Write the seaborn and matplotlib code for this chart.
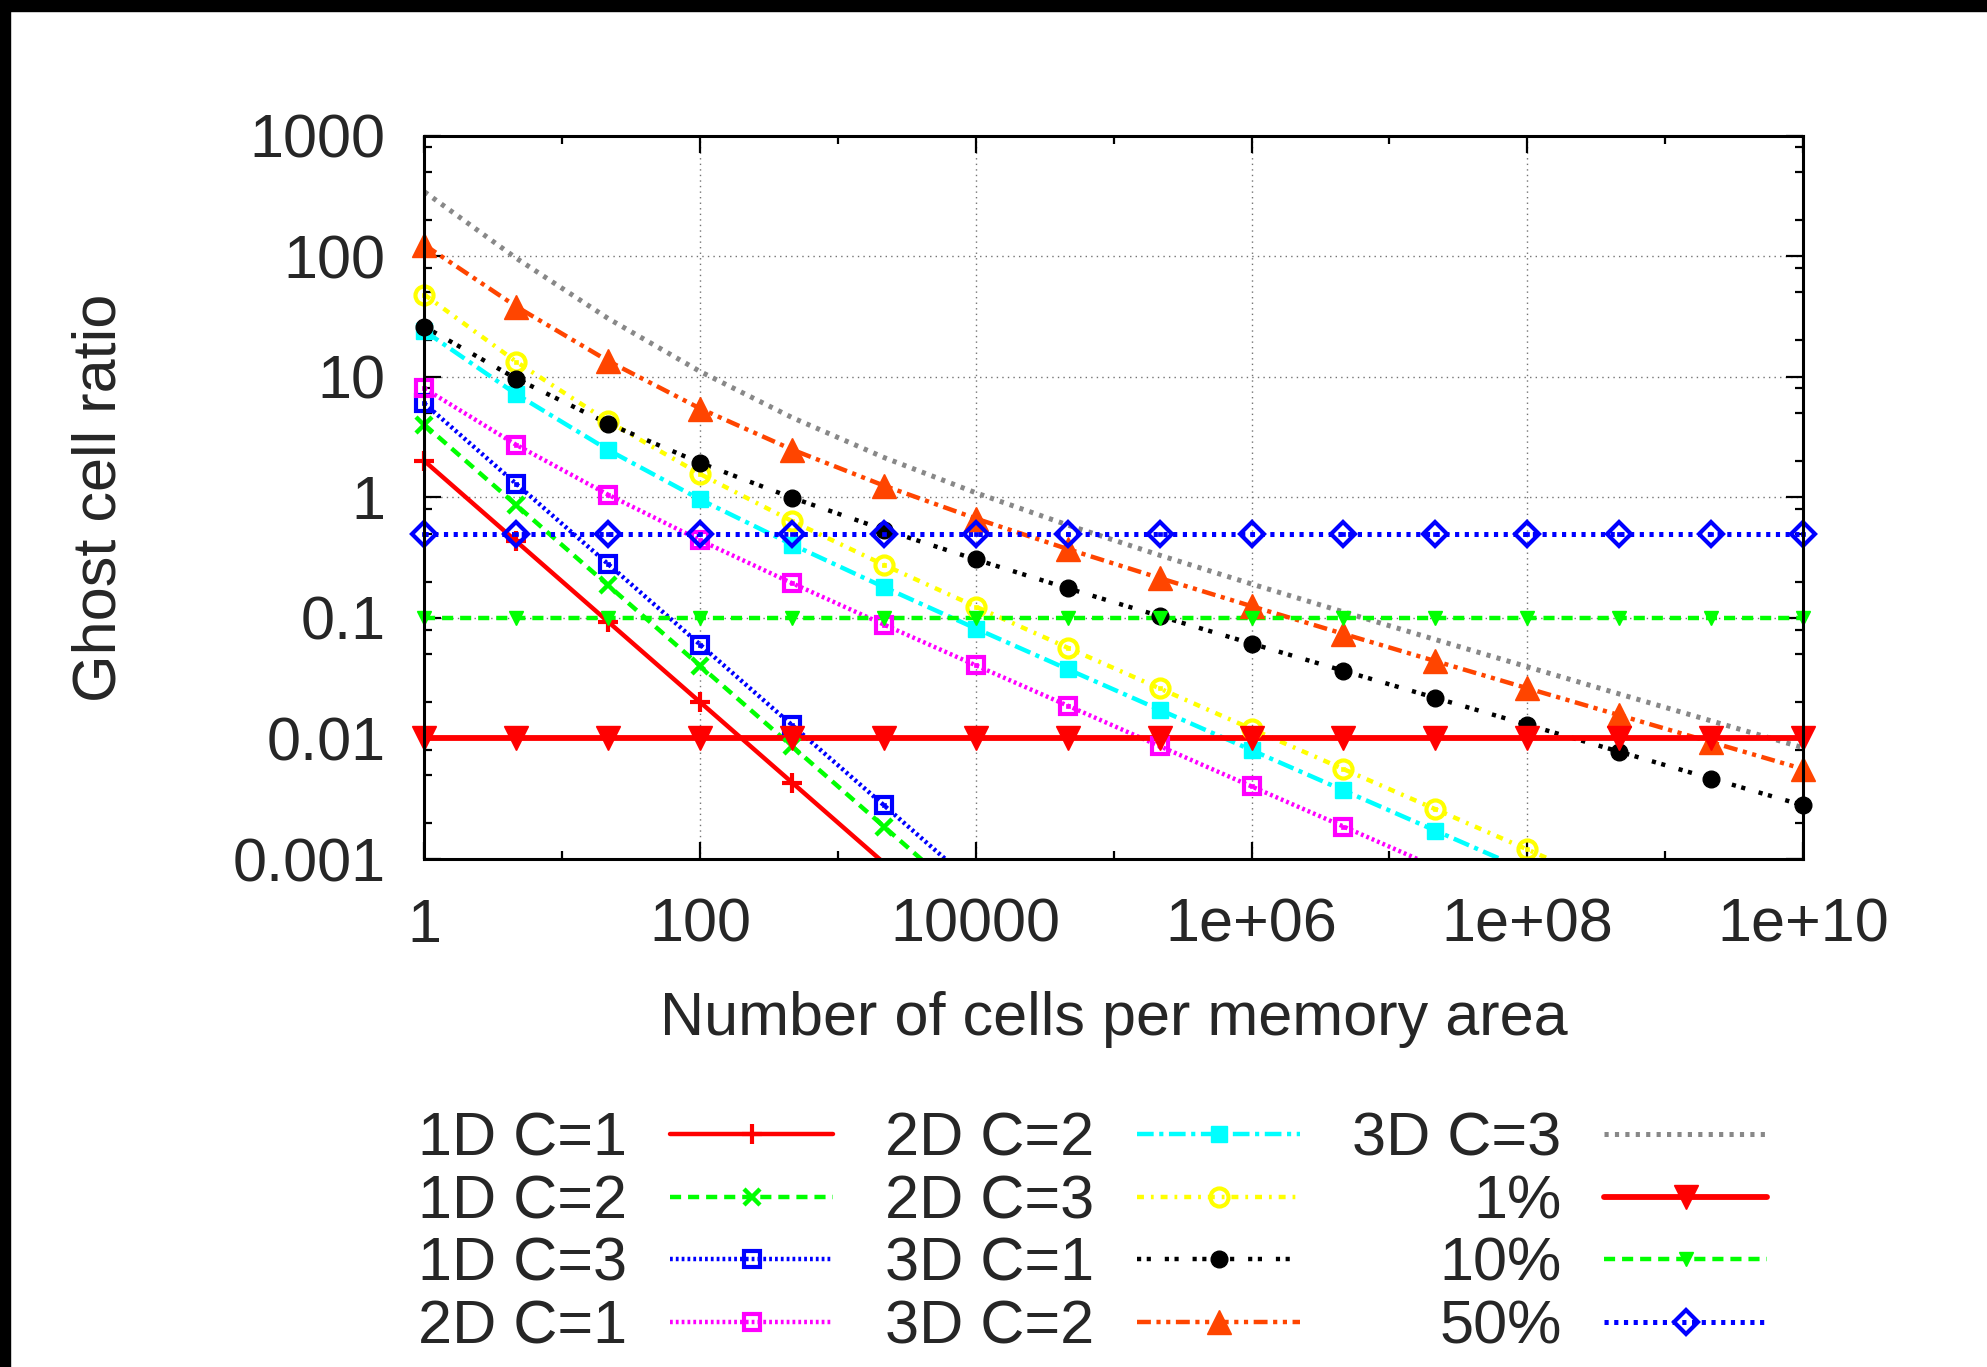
import matplotlib
matplotlib.use("Agg")
import matplotlib.pyplot as plt
import seaborn as sns
import pandas as pd
from matplotlib.lines import Line2D
from matplotlib.patches import Rectangle
from matplotlib.ticker import FixedLocator, FixedFormatter, NullFormatter

# ---------------- data ----------------
cells = [1, 4.642, 21.54, 100, 464.2, 2154, 1.0e4, 4.642e4, 2.154e5, 1.0e6,
         4.642e6, 2.154e7, 1.0e8, 4.642e8, 2.154e9, 1.0e10]

ratio_1d_c1 = [2.0, 0.431, 0.0928, 0.02, 0.00431, 0.000928]
ratio_1d_c2 = [4.0, 0.862, 0.186, 0.04, 0.00862, 0.00186, 0.0004]
ratio_1d_c3 = [6.0, 1.29, 0.279, 0.06, 0.0129, 0.00279, 0.0006]
ratio_2d_c1 = [8.0, 2.72, 1.05, 0.44, 0.194, 0.0880, 0.0404, 0.0187, 0.00864,
               0.0040, 0.00186, 0.00086]
ratio_2d_c2 = [24.0, 7.16, 2.47, 0.96, 0.406, 0.180, 0.0816, 0.0375, 0.0173,
               0.0080, 0.00371, 0.00172, 0.0008]
ratio_2d_c3 = [48.0, 13.3, 4.26, 1.56, 0.635, 0.275, 0.124, 0.0565, 0.0260,
               0.0120, 0.00557, 0.00259, 0.0012, 0.000557]
ratio_3d_c1 = [26.0, 9.63, 4.08, 1.93, 0.992, 0.540, 0.305, 0.176, 0.1035,
               0.0612, 0.0364, 0.0217, 0.0130, 0.00777, 0.00465, 0.00279]
ratio_3d_c2 = [124.0, 38.2, 13.5, 5.45, 2.49, 1.25, 0.667, 0.372, 0.214,
               0.125, 0.0737, 0.0438, 0.0261, 0.0156, 0.00932, 0.00558]
ratio_3d_c3 = [342.0, 96.1, 30.4, 11.05, 4.59, 2.14, 1.09, 0.589, 0.331,
               0.191, 0.112, 0.0661, 0.0393, 0.0234, 0.0140, 0.00838]
level_1pct = [0.01, 0.01, 0.01, 0.01, 0.01, 0.01, 0.01, 0.01,
              0.01, 0.01, 0.01, 0.01, 0.01, 0.01, 0.01, 0.01]
level_10pct = [0.1, 0.1, 0.1, 0.1, 0.1, 0.1, 0.1, 0.1,
               0.1, 0.1, 0.1, 0.1, 0.1, 0.1, 0.1, 0.1]
level_50pct = [0.5, 0.5, 0.5, 0.5, 0.5, 0.5, 0.5, 0.5,
               0.5, 0.5, 0.5, 0.5, 0.5, 0.5, 0.5, 0.5]

series_labels = ["1D C=1", "1D C=2", "1D C=3", "2D C=1", "2D C=2", "2D C=3",
                 "3D C=1", "3D C=2", "3D C=3", "1%", "10%", "50%"]
series_values = [ratio_1d_c1, ratio_1d_c2, ratio_1d_c3, ratio_2d_c1, ratio_2d_c2,
                 ratio_2d_c3, ratio_3d_c1, ratio_3d_c2, ratio_3d_c3,
                 level_1pct, level_10pct, level_50pct]

x_ticks = [1, 1e2, 1e4, 1e6, 1e8, 1e10]
x_tick_labels = ["1", "100", "10000", "1e+06", "1e+08", "1e+10"]
x_minor = [10, 1e3, 1e5, 1e7, 1e9]
y_ticks = [1e-3, 1e-2, 1e-1, 1, 10, 100, 1000]
y_tick_labels = ["0.001", "0.01", "0.1", "1", "10", "100", "1000"]
y_minor = [m * d for d in [1e-3, 1e-2, 1e-1, 1, 10, 100] for m in (2, 5, 8)]

# ---------------- styles ----------------
GREEN = "#00ff00"
styles = {
    "1D C=1": dict(color="#ff0000", ls="-", lw=3.2, marker="+", ms=14, mfc="#ff0000", mew=3, inner=False),
    "1D C=2": dict(color=GREEN, ls=(0, (8, 5)), lw=3.2, marker="x", ms=12, mfc=GREEN, mew=3.2, inner=False),
    "1D C=3": dict(color="#0000ff", ls=(0, (2, 2.2)), lw=3.2, marker="s", ms=12, mfc="none", mew=3, inner=True),
    "2D C=1": dict(color="#ff00ff", ls=(0, (2, 2.2)), lw=3.2, marker="s", ms=12, mfc="none", mew=3, inner=True),
    "2D C=2": dict(color="#00ffff", ls=(0, (12, 4, 3, 4)), lw=3.2, marker="s", ms=12, mfc="#00ffff", mew=1, inner=False),
    "2D C=3": dict(color="#ffff00", ls=(0, (5, 5, 2, 5)), lw=3.2, marker="o", ms=13, mfc="none", mew=3, inner=True),
    "3D C=1": dict(color="#000000", ls=(0, (3, 4, 3, 10)), lw=3.2, marker="o", ms=12, mfc="#000000", mew=1, inner=False),
    "3D C=2": dict(color="#ff4500", ls=(0, (10, 4, 3, 4, 3, 4)), lw=3.2, marker="^", ms=17, mfc="#ff4500", mew=1, inner=False),
    "3D C=3": dict(color="#888888", ls=(0, (3, 4.5)), lw=3.6, marker=None, ms=0, mfc="none", mew=0, inner=False),
    "1%": dict(color="#ff0000", ls="-", lw=4.2, marker="v", ms=17, mfc="#ff0000", mew=1, inner=False),
    "10%": dict(color=GREEN, ls=(0, (8, 5)), lw=3.2, marker="v", ms=10, mfc=GREEN, mew=1, inner=False),
    "50%": dict(color="#0000ff", ls=(0, (3, 4)), lw=3.6, marker="D", ms=12, mfc="none", mew=3, inner=True),
}

# ---------------- figure ----------------
sns.set_style("ticks")
plt.rcParams["font.family"] = ["Liberation Sans", "DejaVu Sans"]
plt.rcParams["lines.scale_dashes"] = False
FS = 44

fig = plt.figure(figsize=(19.87, 13.67), dpi=100)
fig.patch.set_facecolor("white")
ax = fig.add_axes([0.2136, 0.3716, 0.6938, 0.5292])
ax.set_xscale("log")
ax.set_yscale("log")
ax.set_xlim(1, 1e10)
ax.set_ylim(1e-3, 1e3)

handles = []
for label, vals in zip(series_labels, series_values):
    st = styles[label]
    df = pd.DataFrame({"cells": cells[:len(vals)], "ratio": vals})
    sns.lineplot(data=df, x="cells", y="ratio", ax=ax, color=st["color"],
                 linestyle=st["ls"], lw=st["lw"], errorbar=None, sort=False,
                 clip_on=True, zorder=3)
    if st["marker"] is not None:
        dfm = df[(df["ratio"] >= 1e-3) & (df["ratio"] <= 1e3)]
        sns.lineplot(data=dfm, x="cells", y="ratio", ax=ax, linestyle="none",
                     marker=st["marker"], markersize=st["ms"], color=st["color"],
                     markerfacecolor=st["mfc"], markeredgecolor=st["color"],
                     markeredgewidth=st["mew"], errorbar=None, sort=False,
                     clip_on=False, zorder=4)
        if st["inner"]:
            sns.lineplot(data=dfm, x="cells", y="ratio", ax=ax, linestyle="none",
                         marker="s", markersize=3, color=st["color"],
                         markerfacecolor=st["color"], markeredgecolor=st["color"],
                         markeredgewidth=0.5, errorbar=None, sort=False,
                         clip_on=False, zorder=4)
    handles.append(Line2D([], [], color=st["color"], linestyle=st["ls"], lw=st["lw"],
                          marker=st["marker"], markersize=st["ms"],
                          markerfacecolor=st["mfc"], markeredgecolor=st["color"],
                          markeredgewidth=st["mew"]))

# axes cosmetics
ax.xaxis.set_major_locator(FixedLocator(x_ticks))
ax.xaxis.set_major_formatter(FixedFormatter(x_tick_labels))
ax.xaxis.set_minor_locator(FixedLocator(x_minor))
ax.xaxis.set_minor_formatter(NullFormatter())
ax.yaxis.set_major_locator(FixedLocator(y_ticks))
ax.yaxis.set_major_formatter(FixedFormatter(y_tick_labels))
ax.yaxis.set_minor_locator(FixedLocator(y_minor))
ax.yaxis.set_minor_formatter(NullFormatter())

ax.tick_params(which="major", direction="in", length=12, width=1.6,
               top=True, right=True, labelsize=FS, color="black")
ax.tick_params(which="minor", direction="in", length=6, width=1.6,
               top=True, right=True, color="black")
ax.tick_params(axis="x", which="major", pad=28)
ax.tick_params(axis="y", which="major", pad=28)
for sp in ax.spines.values():
    sp.set_linewidth(2.2)
    sp.set_color("black")
    sp.set_zorder(5)

ax.grid(True, which="major", linestyle=(0, (1, 3)), color="0.45", lw=1.0)
ax.grid(False, which="minor")
ax.set_axisbelow(True)

ax.set_xlabel("Number of cells per memory area", fontsize=FS, labelpad=26)
ax.set_ylabel("Ghost cell ratio", fontsize=FS)
ax.yaxis.set_label_coords(-0.2145, 0.5)

leg = fig.legend(handles, series_labels, loc="upper left",
                 bbox_to_anchor=(0.2104, 0.187), ncol=3, markerfirst=False,
                 frameon=False, fontsize=FS, handlelength=2.67,
                 handletextpad=0.7, columnspacing=0.85, labelspacing=0.093,
                 borderpad=0, borderaxespad=0, numpoints=1)

# black edge bands of the original image
fig.patches.append(Rectangle((0, 1 - 11 / 1367), 1, 11 / 1367,
                             transform=fig.transFigure, color="black", zorder=10))
fig.patches.append(Rectangle((0, 0), 10 / 1987, 1,
                             transform=fig.transFigure, color="black", zorder=10))

fig.savefig("out.png", dpi=100)
